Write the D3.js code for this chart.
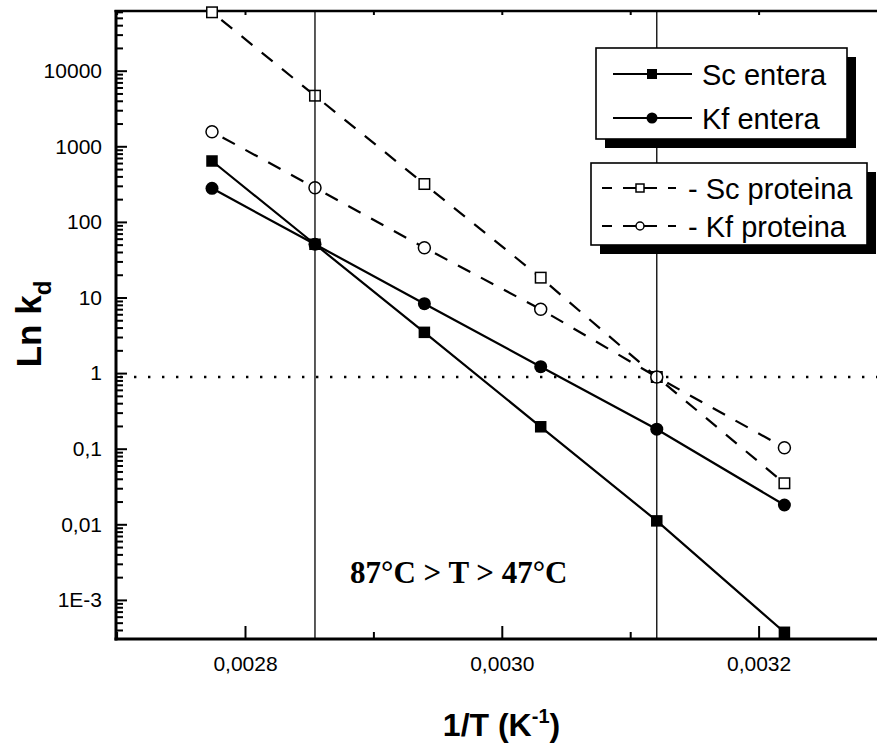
<!DOCTYPE html>
<html>
<head>
<meta charset="utf-8">
<script src="https://cdn.jsdelivr.net/npm/d3@7"></script>
<style>
  body { margin: 0; background: #fff; }
  svg { display: block; }
</style>
</head>
<body>
<svg id="chart" width="877" height="744"></svg>
<script>
// 1/T (K^-1) of the six temperatures measured
const invT = [0.0027743, 0.0028545, 0.0029397, 0.0030303, 0.0031207, 0.0032201];
// deactivation constants per series
const scEntera   = [639, 50.6, 3.46, 0.195, 0.0111, 0.000373];
const kfEntera   = [278, 50.6, 8.28, 1.215, 0.181, 0.018];
const scProteina = [59200, 4670, 317, 18.3, 0.888, 0.0349];
const kfProteina = [1560, 283, 45.6, 6.98, 0.888, 0.103];

const yTickValues = [1e4, 1e3, 100, 10, 1, 0.1, 0.01, 0.001];
const yTickLabels = ["10000", "1000", "100", "10", "1", "0,1", "0,01", "1E-3"];
const xTickValues = [0.0028, 0.0030, 0.0032];
const xTickLabels = ["0,0028", "0,0030", "0,0032"];
const xMinorValues = [0.0027, 0.0029, 0.0031, 0.0033];

// reference lines: the 87 °C and 47 °C bounds and the k_d level they share
const guideX = [invT[1], invT[4]];
const guideY = 0.888;
const rangeNote = "87°C > T > 47°C";

const series = [
  { name: "Sc entera",   values: scEntera,   symbol: "square", open: false, dashed: false },
  { name: "Kf entera",   values: kfEntera,   symbol: "circle", open: false, dashed: false },
  { name: "Sc proteina", values: scProteina, symbol: "square", open: true,  dashed: true },
  { name: "Kf proteina", values: kfProteina, symbol: "circle", open: true,  dashed: true }
];

const SANS = "'Liberation Sans', Arial, Helvetica, sans-serif";
const SERIF = "'Liberation Serif', 'Times New Roman', serif";

const svg = d3.select("#chart");
const plotLeft = 116, plotRight = 887, plotTop = 11, plotBottom = 639;

const x = d3.scaleLinear().domain([0.0027, 0.0033]).range([plotLeft + 0.6, plotRight]);
const y = d3.scaleLog().domain([3.04e-4, 6.16e4]).range([plotBottom, plotTop]);

// log minor ticks 2..9 in every decade of the domain
const yMinorValues = [];
for (let e = -4; e <= 4; e++) {
  for (let m = 2; m <= 9; m++) {
    const v = m * Math.pow(10, e);
    if (v >= y.domain()[0] && v <= y.domain()[1]) yMinorValues.push(v);
  }
}

function styleAxis(g) {
  g.select(".domain").remove();
  g.selectAll(".tick line").attr("stroke", "#000").attr("stroke-width", 2);
  g.selectAll(".tick text")
    .attr("font-family", SANS)
    .attr("font-size", 21)
    .attr("fill", "#000");
}

// left axis
svg.append("g")
  .attr("transform", `translate(${plotLeft},0)`)
  .call(d3.axisLeft(y).tickValues(yMinorValues).tickSizeInner(-7).tickSizeOuter(0).tickFormat(""))
  .call(styleAxis);
svg.append("g")
  .attr("transform", `translate(${plotLeft},0)`)
  .call(d3.axisLeft(y).tickValues(yTickValues).tickSizeInner(-11).tickSizeOuter(0)
    .tickPadding(14).tickFormat((d, i) => yTickLabels[i]))
  .call(styleAxis);

// bottom axis
svg.append("g")
  .attr("transform", `translate(0,${plotBottom})`)
  .call(d3.axisBottom(x).tickValues(xMinorValues).tickSizeInner(-7).tickSizeOuter(0).tickFormat(""))
  .call(styleAxis);
svg.append("g")
  .attr("transform", `translate(0,${plotBottom})`)
  .call(d3.axisBottom(x).tickValues(xTickValues).tickSizeInner(-13).tickSizeOuter(0)
    .tickPadding(17).tickFormat((d, i) => xTickLabels[i]))
  .call(styleAxis);

// top axis: short inward ticks only
svg.append("g")
  .attr("transform", `translate(0,${plotTop})`)
  .call(d3.axisTop(x).tickValues(xTickValues.concat(xMinorValues)).tickSizeInner(-4).tickSizeOuter(0).tickFormat(""))
  .call(styleAxis);

// frame lines
svg.append("line").attr("x1", plotLeft).attr("x2", plotLeft).attr("y1", plotTop - 1).attr("y2", plotBottom + 1.5)
  .attr("stroke", "#000").attr("stroke-width", 3);
svg.append("line").attr("x1", plotLeft - 1.5).attr("x2", plotRight).attr("y1", plotBottom).attr("y2", plotBottom)
  .attr("stroke", "#000").attr("stroke-width", 3);
svg.append("line").attr("x1", plotLeft - 1.5).attr("x2", plotRight).attr("y1", plotTop).attr("y2", plotTop)
  .attr("stroke", "#000").attr("stroke-width", 2.5);

// dotted horizontal reference level
svg.append("line")
  .attr("x1", plotLeft + 4).attr("x2", plotRight).attr("y1", y(guideY)).attr("y2", y(guideY))
  .attr("stroke", "#000").attr("stroke-width", 2.4).attr("stroke-dasharray", "2.4,11.6");

// series lines; dashed series restart their dash pattern after each marker
const line = d3.line().x(d => x(d[0])).y(d => y(d[1]));
series.forEach(s => {
  const pts = invT.map((t, i) => [t, s.values[i]]);
  if (!s.dashed) {
    svg.append("path")
      .datum(pts)
      .attr("d", line)
      .attr("fill", "none")
      .attr("stroke", "#000")
      .attr("stroke-width", 2.2);
  } else {
    d3.pairs(pts).forEach(([a, b]) => {
      const x1 = x(a[0]), y1 = y(a[1]), x2 = x(b[0]), y2 = y(b[1]);
      const len = Math.hypot(x2 - x1, y2 - y1);
      const skip = 12;
      const ux = (x2 - x1) / len, uy = (y2 - y1) / len;
      svg.append("line")
        .attr("x1", x1 + ux * skip).attr("y1", y1 + uy * skip)
        .attr("x2", x2).attr("y2", y2)
        .attr("stroke", "#000")
        .attr("stroke-width", 2.2)
        .attr("stroke-dasharray", "14,12");
    });
  }
});

function drawMarker(g, cx, cy, s, size) {
  if (s.symbol === "square") {
    g.append("rect")
      .attr("x", cx - size / 2).attr("y", cy - size / 2)
      .attr("width", size).attr("height", size)
      .attr("fill", s.open ? "#fff" : "#000")
      .attr("stroke", "#000").attr("stroke-width", s.open ? 1.5 : 0);
  } else {
    g.append("circle")
      .attr("cx", cx).attr("cy", cy).attr("r", size / 2)
      .attr("fill", s.open ? "#fff" : "#000")
      .attr("stroke", "#000").attr("stroke-width", s.open ? 1.5 : 0);
  }
}

// markers
const markerLayer = svg.append("g");
series.forEach(s => {
  invT.forEach((t, i) => {
    const size = s.symbol === "square" ? (s.open ? 10.5 : 11.5) : (s.open ? 12 : 13);
    drawMarker(markerLayer, x(t), y(s.values[i]), s, size);
  });
});

// vertical temperature bounds
guideX.forEach(v => {
  svg.append("line")
    .attr("x1", x(v)).attr("x2", x(v)).attr("y1", plotTop).attr("y2", plotBottom)
    .attr("stroke", "#000").attr("stroke-width", 1.3);
});

// temperature range note
svg.append("text")
  .attr("x", 350).attr("y", 583)
  .attr("font-family", SERIF).attr("font-weight", "bold").attr("font-size", 31)
  .text(rangeNote);

// axis titles
const yTitle = svg.append("text")
  .attr("transform", "translate(41,324) rotate(-90)")
  .attr("text-anchor", "middle")
  .attr("font-family", SANS).attr("font-weight", "bold").attr("font-size", 35);
yTitle.append("tspan").text("Ln k");
yTitle.append("tspan").attr("font-size", 24).attr("dy", 10).text("d");

const xTitle = svg.append("text")
  .attr("x", (plotLeft + plotRight) / 2).attr("y", 736)
  .attr("text-anchor", "middle")
  .attr("font-family", SANS).attr("font-weight", "bold").attr("font-size", 32);
xTitle.append("tspan").text("1/T (K");
xTitle.append("tspan").attr("font-size", 20).attr("dy", -13).text("-1");
xTitle.append("tspan").attr("dy", 13).text(")");

// legends with drop shadows
function legendBox(bx, by, bw, bh, items, rowY) {
  const g = svg.append("g");
  g.append("rect").attr("x", bx + 9).attr("y", by + 9).attr("width", bw).attr("height", bh).attr("fill", "#000");
  g.append("rect").attr("x", bx).attr("y", by).attr("width", bw).attr("height", bh)
    .attr("fill", "#fff").attr("stroke", "#000").attr("stroke-width", 1.6);
  items.forEach((s, i) => {
    const cy = rowY[i];
    if (s.dashed) {
      const mx = 640;
      g.append("line").attr("x1", 602).attr("x2", 612).attr("y1", cy).attr("y2", cy)
        .attr("stroke", "#000").attr("stroke-width", 2);
      g.append("line").attr("x1", 623).attr("x2", mx).attr("y1", cy).attr("y2", cy)
        .attr("stroke", "#000").attr("stroke-width", 2);
      g.append("line").attr("x1", mx).attr("x2", 657).attr("y1", cy).attr("y2", cy)
        .attr("stroke", "#000").attr("stroke-width", 2);
      g.append("line").attr("x1", 668).attr("x2", 676).attr("y1", cy).attr("y2", cy)
        .attr("stroke", "#000").attr("stroke-width", 2);
      drawMarker(g, mx, cy, s, 8);
      g.append("text")
        .attr("x", 688).attr("y", cy + 11)
        .attr("font-family", SANS).attr("font-size", 29)
        .text("- " + s.name);
    } else {
      g.append("line").attr("x1", 613).attr("x2", 692).attr("y1", cy).attr("y2", cy)
        .attr("stroke", "#000").attr("stroke-width", 2);
      drawMarker(g, 652, cy, s, s.symbol === "square" ? 10 : 11);
      g.append("text")
        .attr("x", 702).attr("y", cy + 11)
        .attr("font-family", SANS).attr("font-size", 29)
        .text(s.name);
    }
  });
}
legendBox(596, 48, 251, 91, series.slice(0, 2), [74, 118]);
legendBox(591, 163, 276, 82, series.slice(2, 4), [188, 226]);
</script>
</body>
</html>
